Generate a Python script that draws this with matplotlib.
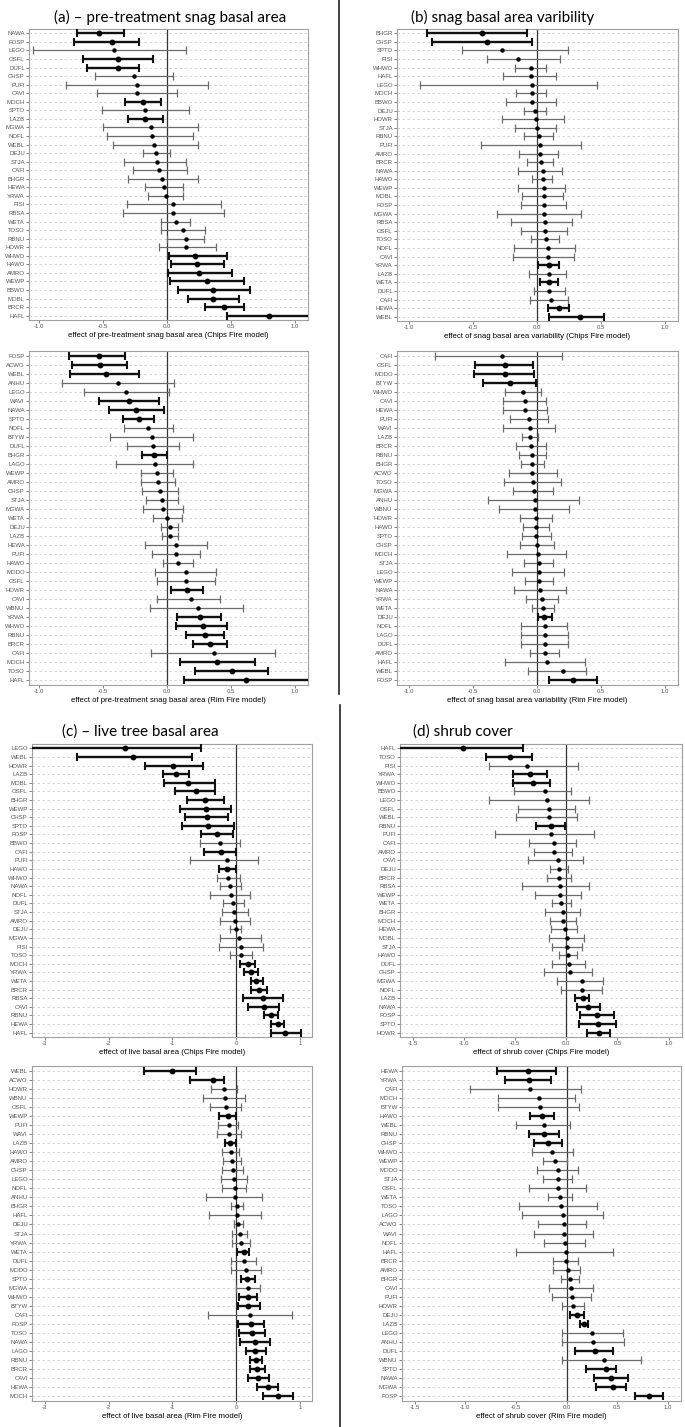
import matplotlib
matplotlib.use("Agg")
import matplotlib.pyplot as plt
from matplotlib.lines import Line2D

# ---- (a) pre-treatment snag basal area, Chips Fire ----
a_chips_sp = ['NAWA', 'FOSP', 'LEGO', 'OSFL', 'DUFL', 'CHSP', 'PUFI', 'CAVI', 'MOCH', 'SPTO', 'LAZB',
              'MGWA', 'NOFL', 'WEBL', 'DEJU', 'STJA', 'CAFI', 'BHGR', 'HEWA', 'YRWA', 'PISI', 'RBSA',
              'WETA', 'TOSO', 'RBNU', 'HOWR', 'WHWO', 'HAWO', 'AMRO', 'WEWP', 'BBWO', 'MOBL', 'BRCR', 'HAFL']
a_chips_est = [-0.534, -0.432, -0.419, -0.388, -0.388, -0.258, -0.240, -0.240, -0.188, -0.174, -0.172,
               -0.130, -0.120, -0.102, -0.086, -0.081, -0.063, -0.044, -0.029, -0.008, 0.049, 0.049,
               0.065, 0.125, 0.143, 0.146, 0.214, 0.234, 0.250, 0.307, 0.359, 0.359, 0.443, 0.794]
a_chips_lo = [-0.708, -0.729, -1.050, -0.661, -0.630, -0.565, -0.792, -0.552, -0.333, -0.513, -0.307,
              -0.503, -0.474, -0.427, -0.188, -0.339, -0.271, -0.310, -0.177, -0.154, -0.315, -0.349,
              -0.052, -0.049, -0.005, -0.065, 0.010, 0.029, 0.008, 0.021, 0.086, 0.164, 0.297, 0.464]
a_chips_hi = [-0.336, -0.219, 0.143, -0.115, -0.219, 0.042, 0.315, 0.076, -0.052, 0.167, -0.034,
              0.237, 0.203, 0.237, 0.018, 0.148, 0.156, 0.237, 0.120, 0.125, 0.417, 0.440,
              0.177, 0.297, 0.284, 0.383, 0.466, 0.443, 0.503, 0.602, 0.646, 0.563, 0.599, 1.250]

# ---- (a) pre-treatment snag basal area, Rim Fire ----
a_rim_sp = ['FOSP', 'ACWO', 'WEBL', 'ANHU', 'LEGO', 'WAVI', 'NAWA', 'SPTO', 'NOFL', 'BTYW', 'DUFL', 'BHGR',
            'LAGO', 'WEWP', 'AMRO', 'CHSP', 'STJA', 'MGWA', 'WETA', 'DEJU', 'LAZB', 'HEWA', 'PUFI', 'HAWO',
            'MODO', 'OSFL', 'HOWR', 'CAVI', 'WBNU', 'YRWA', 'WHWO', 'RBNU', 'BRCR', 'CAFI', 'MOCH', 'TOSO', 'HAFL']
a_rim_est = [-0.534, -0.529, -0.479, -0.385, -0.323, -0.297, -0.242, -0.224, -0.148, -0.122, -0.115, -0.102,
             -0.096, -0.078, -0.070, -0.057, -0.044, -0.036, -0.003, 0.018, 0.023, 0.068, 0.068, 0.086,
             0.146, 0.146, 0.154, 0.185, 0.237, 0.255, 0.279, 0.294, 0.337, 0.363, 0.392, 0.504, 0.614]
a_rim_lo = [-0.768, -0.742, -0.763, -0.823, -0.654, -0.531, -0.458, -0.346, -0.341, -0.445, -0.318, -0.198,
            -0.398, -0.206, -0.206, -0.198, -0.169, -0.188, -0.115, -0.052, -0.042, -0.174, -0.122, -0.036,
            -0.096, -0.081, 0.031, -0.081, -0.133, 0.078, 0.065, 0.143, 0.200, -0.128, 0.097, 0.219, 0.131]
a_rim_hi = [-0.333, -0.318, -0.221, 0.052, 0.016, -0.065, -0.026, -0.107, 0.047, 0.203, 0.094, -0.005,
            0.203, 0.047, 0.060, 0.086, 0.081, 0.120, 0.112, 0.086, 0.083, 0.313, 0.260, 0.203,
            0.380, 0.370, 0.281, 0.411, 0.594, 0.424, 0.464, 0.443, 0.467, 0.843, 0.684, 0.789, 1.250]

# ---- (b) snag basal area variability, Chips Fire ----
b_chips_sp = ['BHGR', 'CHSP', 'SPTO', 'PISI', 'WHWO', 'HAFL', 'LEGO', 'MOCH', 'BBWO', 'DEJU', 'HOWR',
              'STJA', 'RBNU', 'PUFI', 'AMRO', 'BRCR', 'NAWA', 'HAWO', 'WEWP', 'MOBL', 'FOSP', 'MGWA',
              'RBSA', 'OSFL', 'TOSO', 'NOFL', 'CAVI', 'YRWA', 'LAZB', 'WETA', 'DUFL', 'CAFI', 'HEWA', 'WEBL']
b_chips_est = [-0.424, -0.390, -0.269, -0.145, -0.047, -0.044, -0.041, -0.041, -0.034, -0.016, -0.003,
               0.003, 0.018, 0.021, 0.021, 0.031, 0.044, 0.044, 0.052, 0.054, 0.057, 0.059,
               0.065, 0.065, 0.070, 0.083, 0.083, 0.093, 0.096, 0.096, 0.098, 0.109, 0.173, 0.336]
b_chips_lo = [-0.853, -0.814, -0.587, -0.390, -0.173, -0.266, -0.907, -0.160, -0.238, -0.101, -0.269,
              -0.173, -0.103, -0.432, -0.142, -0.080, -0.150, -0.039, -0.150, -0.119, -0.124, -0.313,
              -0.204, -0.127, -0.049, -0.181, -0.186, 0.005, -0.062, 0.021, -0.023, -0.052, 0.088, 0.093]
b_chips_hi = [-0.075, -0.034, 0.243, 0.181, 0.075, 0.152, 0.465, 0.075, 0.147, 0.072, 0.209,
              0.150, 0.129, 0.346, 0.163, 0.127, 0.199, 0.121, 0.222, 0.207, 0.227, 0.341,
              0.274, 0.238, 0.176, 0.297, 0.292, 0.171, 0.230, 0.163, 0.220, 0.243, 0.251, 0.527]

# ---- (b) snag basal area variability, Rim Fire ----
b_rim_sp = ['CAFI', 'OSFL', 'MODO', 'BTYW', 'WHWO', 'CAVI', 'HEWA', 'PUFI', 'WAVI', 'LAZB', 'BRCR', 'RBNU',
            'BHGR', 'ACWO', 'TOSO', 'MGWA', 'ANHU', 'WBNU', 'HOWR', 'HAWO', 'SPTO', 'CHSP', 'MOCH', 'STJA',
            'LEGO', 'WEWP', 'NAWA', 'YRWA', 'WETA', 'DEJU', 'NOFL', 'LAGO', 'DUFL', 'AMRO', 'HAFL', 'WEBL', 'FOSP']
b_rim_est = [-0.271, -0.251, -0.251, -0.207, -0.111, -0.090, -0.090, -0.062, -0.057, -0.057, -0.044, -0.036,
             -0.036, -0.034, -0.031, -0.021, -0.018, -0.013, -0.005, -0.005, -0.003, 0.003, 0.010, 0.016,
             0.016, 0.018, 0.026, 0.041, 0.049, 0.057, 0.062, 0.062, 0.065, 0.065, 0.080, 0.200, 0.280]
b_rim_lo = [-0.796, -0.483, -0.486, -0.416, -0.251, -0.261, -0.266, -0.212, -0.266, -0.119, -0.160, -0.142,
            -0.124, -0.220, -0.253, -0.183, -0.382, -0.297, -0.134, -0.111, -0.114, -0.132, -0.230, -0.103,
            -0.194, -0.096, -0.181, -0.083, -0.039, 0.005, -0.121, -0.127, -0.121, -0.052, -0.245, -0.067, 0.095]
b_rim_hi = [0.199, -0.031, -0.021, -0.005, 0.034, 0.072, 0.080, 0.088, 0.145, 0.008, 0.070, 0.070,
            0.052, 0.155, 0.189, 0.129, 0.331, 0.253, 0.119, 0.098, 0.111, 0.132, 0.230, 0.129,
            0.212, 0.127, 0.227, 0.163, 0.137, 0.119, 0.238, 0.245, 0.245, 0.176, 0.372, 0.385, 0.465]

# ---- (c) live tree basal area, Chips Fire ----
c_chips_sp = ['LEGO', 'WEBL', 'HOWR', 'LAZB', 'MOBL', 'OSFL', 'BHGR', 'WEWP', 'CHSP', 'SPTO', 'FOSP',
              'BBWO', 'CAFI', 'PUFI', 'HAWO', 'WHWO', 'NAWA', 'NOFL', 'DUFL', 'STJA', 'AMRO', 'DEJU',
              'MGWA', 'PISI', 'TOSO', 'MOCH', 'YRWA', 'WETA', 'BRCR', 'RBSA', 'CAVI', 'RBNU', 'HEWA', 'HAFL']
c_chips_est = [-1.746, -1.615, -0.983, -0.936, -0.758, -0.627, -0.486, -0.470, -0.460, -0.439, -0.298,
               -0.251, -0.240, -0.146, -0.136, -0.120, -0.099, -0.084, -0.052, -0.026, -0.021, 0.000,
               0.047, 0.073, 0.078, 0.183, 0.230, 0.319, 0.361, 0.429, 0.434, 0.544, 0.653, 0.774]
c_chips_lo = [-3.400, -2.499, -1.422, -1.145, -1.129, -0.957, -0.774, -0.873, -0.795, -0.847, -0.549,
              -0.559, -0.497, -0.721, -0.261, -0.303, -0.256, -0.413, -0.204, -0.225, -0.251, -0.089,
              -0.256, -0.272, -0.094, 0.068, 0.131, 0.230, 0.230, 0.105, 0.183, 0.444, 0.549, 0.549]
c_chips_hi = [-0.544, -0.690, -0.518, -0.732, -0.335, -0.324, -0.183, -0.073, -0.125, -0.026, -0.052,
              0.068, -0.005, 0.345, -0.005, 0.058, 0.073, 0.225, 0.120, 0.183, 0.225, 0.084,
              0.387, 0.418, 0.246, 0.298, 0.350, 0.418, 0.491, 0.737, 0.674, 0.659, 0.758, 1.019]

# ---- (c) live tree basal area, Rim Fire ----
c_rim_sp = ['WEBL', 'ACWO', 'HOWR', 'WBNU', 'OSFL', 'WEWP', 'PUFI', 'WAVI', 'LAZB', 'HAWO', 'AMRO', 'CHSP',
            'LEGO', 'NOFL', 'ANHU', 'BHGR', 'HAFL', 'DEJU', 'STJA', 'YRWA', 'WETA', 'DUFL', 'MODO', 'SPTO',
            'MGWA', 'WHWO', 'BTYW', 'CAFI', 'FOSP', 'TOSO', 'NAWA', 'LAGO', 'RBNU', 'BRCR', 'CAVI', 'HEWA', 'MOCH']
c_rim_est = [-1.009, -0.366, -0.188, -0.178, -0.152, -0.131, -0.115, -0.110, -0.089, -0.073, -0.058, -0.052,
             -0.031, -0.021, -0.016, 0.010, 0.016, 0.037, 0.063, 0.078, 0.120, 0.120, 0.162, 0.178,
             0.183, 0.188, 0.188, 0.220, 0.235, 0.256, 0.298, 0.303, 0.319, 0.335, 0.345, 0.497, 0.664]
c_rim_lo = [-1.448, -0.721, -0.397, -0.523, -0.403, -0.261, -0.288, -0.303, -0.178, -0.214, -0.204, -0.214,
            -0.230, -0.214, -0.476, -0.084, -0.423, -0.026, -0.058, -0.058, 0.021, -0.078, -0.078, 0.078,
            -0.005, 0.052, 0.026, -0.444, 0.026, 0.047, 0.063, 0.157, 0.220, 0.220, 0.183, 0.335, 0.429]
c_rim_hi = [-0.622, -0.183, 0.010, 0.136, 0.073, -0.005, 0.037, 0.078, -0.005, 0.042, 0.073, 0.105,
            0.167, 0.152, 0.408, 0.105, 0.392, 0.105, 0.172, 0.214, 0.204, 0.308, 0.387, 0.293,
            0.371, 0.324, 0.376, 0.878, 0.444, 0.460, 0.528, 0.465, 0.413, 0.460, 0.512, 0.653, 0.899]

# ---- (d) shrub cover, Chips Fire ----
d_chips_sp = ['HAFL', 'TOSO', 'PISI', 'YRWA', 'WHWO', 'BBWO', 'LEGO', 'OSFL', 'WEBL', 'RBNU', 'PUFI',
              'CAFI', 'AMRO', 'CAVI', 'DEJU', 'BRCR', 'RBSA', 'WEWP', 'WETA', 'BHGR', 'MOCH', 'HEWA',
              'MOBL', 'STJA', 'HAWO', 'DUFL', 'CHSP', 'MGWA', 'NOFL', 'LAZB', 'NAWA', 'FOSP', 'SPTO', 'HOWR']
d_chips_est = [-1.010, -0.552, -0.383, -0.351, -0.321, -0.211, -0.192, -0.169, -0.166, -0.149, -0.146,
               -0.123, -0.120, -0.084, -0.075, -0.068, -0.065, -0.062, -0.049, -0.032, -0.029, -0.016,
               0.010, 0.010, 0.019, 0.023, 0.032, 0.153, 0.153, 0.159, 0.214, 0.299, 0.312, 0.315]
d_chips_lo = [-1.800, -0.789, -0.750, -0.523, -0.516, -0.510, -0.750, -0.471, -0.487, -0.295, -0.692,
              -0.364, -0.318, -0.373, -0.162, -0.185, -0.429, -0.302, -0.143, -0.208, -0.159, -0.149,
              -0.169, -0.143, -0.075, -0.140, -0.221, -0.094, -0.052, 0.088, 0.107, 0.133, 0.127, 0.205]
d_chips_hi = [-0.422, -0.331, 0.117, -0.185, -0.159, 0.042, 0.224, 0.084, 0.101, -0.010, 0.273,
              0.094, 0.055, 0.166, 0.013, 0.045, 0.224, 0.146, 0.042, 0.130, 0.094, 0.107,
              0.172, 0.149, 0.101, 0.179, 0.250, 0.357, 0.347, 0.224, 0.334, 0.464, 0.481, 0.422]

# ---- (d) shrub cover, Rim Fire ----
d_rim_sp = ['HEWA', 'YRWA', 'CAFI', 'MOCH', 'BTYW', 'HAWO', 'WEBL', 'RBNU', 'CHSP', 'WHWO', 'WEWP', 'MODO',
            'STJA', 'OSFL', 'WETA', 'TOSO', 'LAGO', 'ACWO', 'WAVI', 'NOFL', 'HAFL', 'BRCR', 'AMRO', 'BHGR',
            'CAVI', 'PUFI', 'HOWR', 'DEJU', 'LAZB', 'LEGO', 'ANHU', 'DUFL', 'WBNU', 'SPTO', 'NAWA', 'MGWA', 'FOSP']
d_rim_est = [-0.383, -0.370, -0.364, -0.269, -0.260, -0.247, -0.227, -0.227, -0.179, -0.140, -0.114, -0.084,
             -0.084, -0.081, -0.062, -0.052, -0.032, -0.029, -0.023, -0.016, -0.006, -0.003, 0.010, 0.032,
             0.045, 0.058, 0.065, 0.101, 0.172, 0.253, 0.260, 0.286, 0.367, 0.386, 0.442, 0.455, 0.812]
d_rim_lo = [-0.685, -0.604, -0.951, -0.675, -0.675, -0.364, -0.500, -0.373, -0.321, -0.344, -0.234, -0.295,
            -0.231, -0.367, -0.182, -0.471, -0.438, -0.279, -0.318, -0.227, -0.497, -0.136, -0.130, -0.055,
            -0.175, -0.140, -0.042, 0.036, 0.130, -0.049, -0.042, 0.088, -0.049, 0.195, 0.273, 0.295, 0.672]
d_rim_hi = [-0.101, -0.153, 0.140, 0.084, 0.127, -0.123, 0.036, -0.071, -0.042, 0.065, 0.006, 0.114,
            0.055, 0.195, 0.055, 0.305, 0.360, 0.195, 0.260, 0.179, 0.461, 0.110, 0.136, 0.127,
            0.260, 0.237, 0.172, 0.175, 0.214, 0.558, 0.571, 0.461, 0.731, 0.484, 0.604, 0.584, 0.951]

W, H = 685, 1427
fig = plt.figure(figsize=(W / 100, H / 100), dpi=100)

ab_ticks = [-1.0, -0.5, 0.0, 0.5, 1.0]
c_ticks = [-3, -2, -1, 0, 1]
d_ticks = [-1.5, -1.0, -0.5, 0.0, 0.5, 1.0]

# (species, est, lo, hi, box in px (x0, y0, x1, y1), xlim, ticks, tick fmt, xlabel)
panels = [
    (a_chips_sp, a_chips_est, a_chips_lo, a_chips_hi, (29, 29, 308, 320), (-1.08, 1.10), ab_ticks, '{:.1f}',
     'effect of pre-treatment snag basal area (Chips Fire model)'),
    (a_rim_sp, a_rim_est, a_rim_lo, a_rim_hi, (29, 351, 308, 685), (-1.08, 1.10), ab_ticks, '{:.1f}',
     'effect of pre-treatment snag basal area (Rim Fire model)'),
    (b_chips_sp, b_chips_est, b_chips_lo, b_chips_hi, (397, 29, 678, 321), (-1.09, 1.10), ab_ticks, '{:.1f}',
     'effect of snag basal area variability (Chips Fire model)'),
    (b_rim_sp, b_rim_est, b_rim_lo, b_rim_hi, (397, 351, 678, 685), (-1.09, 1.10), ab_ticks, '{:.1f}',
     'effect of snag basal area variability (Rim Fire model)'),
    (c_chips_sp, c_chips_est, c_chips_lo, c_chips_hi, (32, 744, 312, 1037), (-3.2, 1.19), c_ticks, '{:.0f}',
     'effect of live basal area (Chips Fire model)'),
    (c_rim_sp, c_rim_est, c_rim_lo, c_rim_hi, (32, 1066, 312, 1401), (-3.2, 1.19), c_ticks, '{:.0f}',
     'effect of live basal area (Rim Fire model)'),
    (d_chips_sp, d_chips_est, d_chips_lo, d_chips_hi, (400, 744, 682, 1037), (-1.624, 1.13), d_ticks, '{:.1f}',
     'effect of shrub cover (Chips Fire model)'),
    (d_rim_sp, d_rim_est, d_rim_lo, d_rim_hi, (402, 1066, 681, 1401), (-1.624, 1.13), d_ticks, '{:.1f}',
     'effect of shrub cover (Rim Fire model)'),
]

tick_font = 'Liberation Sans'

for sp, est, lo, hi, box, xlim, ticks, fmt, xlabel in panels:
    x0, y0, x1, y1 = box
    ax = fig.add_axes([x0 / W, 1 - y1 / H, (x1 - x0) / W, (y1 - y0) / H])
    n = len(sp)
    ypos = list(range(n))

    # dashed horizontal guides, one per species
    for y in ypos:
        ax.axhline(y, color='#cfcfcf', lw=0.6, ls=(0, (3, 3)), zorder=0)
    ax.axvline(0, color='#333333', lw=0.9, zorder=1)

    for y, e, l, h in zip(ypos, est, lo, hi):
        sig = l > 0 or h < 0
        if sig:
            ax.errorbar(e, y, xerr=[[e - l], [h - e]], fmt='o', color='black', ecolor='#111111',
                        elinewidth=1.7, capsize=3.2, capthick=1.5, markersize=3.2, zorder=3)
        else:
            ax.errorbar(e, y, xerr=[[e - l], [h - e]], fmt='o', color='black', ecolor='#6a6a6a',
                        elinewidth=0.9, capsize=3.2, capthick=0.9, markersize=2.2, zorder=2)

    ax.set_xlim(*xlim)
    ax.set_ylim(n - 0.5, -0.5)
    ax.set_yticks(ypos)
    ax.set_yticklabels(sp, fontsize=4.3, color='#555555', family=tick_font)
    ax.set_xticks(ticks)
    ax.set_xticklabels([fmt.format(t) for t in ticks], fontsize=4.3, color='#555555', family=tick_font)
    ax.tick_params(length=2, width=0.5, color='#555555', pad=1)
    ax.set_xlabel(xlabel, fontsize=5.6, family=tick_font, labelpad=2)
    for s in ax.spines.values():
        s.set_color('#a0a0a0')
        s.set_linewidth(0.8)

# panel titles
title_font = 'Lato'
fig.text(54 / W, 1 - 17 / H, '(a) \u2013 pre-treatment snag basal area', fontsize=11, family=title_font,
         ha='left', va='center')
fig.text(411 / W, 1 - 17 / H, '(b) snag basal area varibility', fontsize=11, family=title_font,
         ha='left', va='center')
fig.text(62 / W, 1 - 732 / H, '(c) \u2013 live tree basal area', fontsize=11, family=title_font,
         ha='left', va='center')
fig.text(413 / W, 1 - 732 / H, '(d) shrub cover', fontsize=11, family=title_font,
         ha='left', va='center')

# vertical separators between the left and right columns
fig.add_artist(Line2D([339 / W, 339 / W], [1.0, 1 - 694 / H], color='#222222', lw=1.2))
fig.add_artist(Line2D([340 / W, 340 / W], [1 - 705 / H, 0.0], color='#222222', lw=1.2))

fig.savefig('out.png', dpi=100)
